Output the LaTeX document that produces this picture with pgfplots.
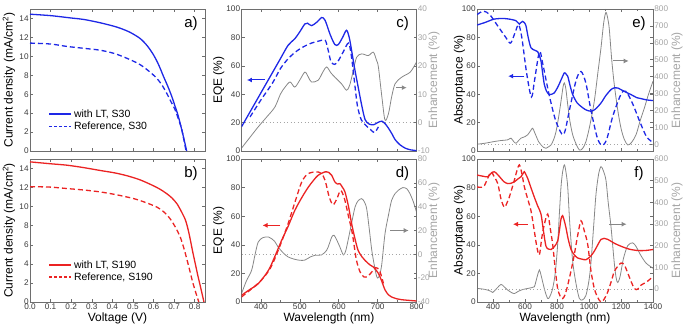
\documentclass[border=0pt]{standalone}
\usepackage{fontspec}
\setmainfont{Liberation Sans}
\usepackage{pgfplots}
\pgfplotsset{compat=1.18}
\usetikzlibrary{arrows.meta}
\definecolor{cblue}{RGB}{30,40,230}
\definecolor{cred}{RGB}{235,35,35}
\definecolor{cgray}{RGB}{135,135,135}
\definecolor{lgray}{RGB}{165,165,165}
\definecolor{frm}{RGB}{110,110,110}
\definecolor{tlab}{RGB}{60,60,60}
\tikzset{plab/.style={font=\fontsize{15}{17}\selectfont}}
\pgfplotsset{
  base/.style={scale only axis, anchor=south west, width=175pt, height=142pt,
    axis line style={frm, line width=0.6pt},
    tick style={frm, line width=0.5pt},
    major tick length=3pt, minor tick length=2pt,
    ticklabel style={font=\fontsize{8.2}{10}\selectfont, text=tlab, inner sep=1.2pt},
    label style={font=\fontsize{12}{14}\selectfont},
    /pgf/number format/assume math mode=true,
    /pgf/number format/set thousands separator={},
    ylabel style={at={(axis description cs:-0.12,0.5)}, anchor=center},
    xlabel style={at={(axis description cs:0.5,-0.112)}, anchor=center},
  },
  rbase/.style={scale only axis, anchor=south west, width=175pt, height=142pt,
    axis y line*=right, axis x line=none,
    axis line style={frm, line width=0.6pt},
    tick style={frm, line width=0.5pt},
    major tick length=3pt,
    ticklabel style={font=\fontsize{8.2}{10}\selectfont, text=lgray, inner sep=1.2pt},
    label style={font=\fontsize{12}{14}\selectfont, text=lgray},
    /pgf/number format/assume math mode=true,
    ylabel style={at={(axis description cs:1.1,0.5)}, anchor=center},
  },
  cur/.style={line width=1.3pt, smooth},
  dsh/.style={line width=1.3pt, smooth, dash pattern=on 5pt off 3pt},
  gr/.style={cgray, line width=0.8pt, smooth},
  dotl/.style={lgray, line width=0.8pt, dash pattern=on 1pt off 2.5pt},
  lg/.style={legend style={at={(rel axis cs:0.1,0.12)}, anchor=south west, draw=none, fill=none,
    font=\fontsize{10.5}{12}\selectfont, row sep=-1pt, inner sep=1pt},
    legend cell align=left,
    legend image code/.code={\draw[##1] (0pt,0pt) -- (22pt,0pt);}},
}
\begin{document}
\begin{tikzpicture}
\useasboundingbox (0pt,0pt) rectangle (686pt,325pt);

% ---------- a ----------
\begin{axis}[base, lg, at={(30pt,174pt)}, xmin=0, xmax=0.85, ymin=0, ymax=15,
  xtick={0,0.1,...,0.8}, xticklabels={}, ytick={0,2,...,14},
  ylabel={Current density (mA/cm\textsuperscript{2})}]
\addlegendimage{cblue, line width=1.3pt}
\addlegendentry{with LT, S30}
\addlegendimage{cblue, line width=1.3pt, dash pattern=on 3pt off 2pt}
\addlegendentry{Reference, S30}
\addplot[cblue, cur, forget plot] coordinates {(0,14.45)(0.1,14.3)(0.2,14.05)(0.26,13.9)(0.34,13.55)(0.42,13.1)(0.48,12.6)(0.534,11.9)(0.57,11.1)(0.6,10.15)(0.625,9.1)(0.648,7.9)(0.67,6.8)(0.688,5.8)(0.705,4.7)(0.72,3.7)(0.741,1.9)(0.761,0)};
\addplot[cblue, dsh, forget plot] coordinates {(0,11.4)(0.1,11.3)(0.178,11.05)(0.26,10.85)(0.34,10.65)(0.41,10.3)(0.47,9.8)(0.52,9.3)(0.55,8.9)(0.585,8.3)(0.615,7.7)(0.64,7.0)(0.664,6.1)(0.685,5.2)(0.704,4.4)(0.722,3.3)(0.737,2.3)(0.758,0)};
\node[plab] at (rel axis cs:0.92,0.9) {a)};
\end{axis}

% ---------- b ----------
\begin{axis}[base, lg, at={(30pt,23pt)}, height=143pt, xmin=0, xmax=0.85, ymin=0, ymax=15,
  xtick={0,0.1,...,0.8}, ytick={0,2,...,14},
  xticklabel style={/pgf/number format/.cd, fixed, fixed zerofill, precision=1},
  ylabel={Current density (mA/cm\textsuperscript{2})}, xlabel={Voltage (V)}]
\addlegendimage{cred, line width=1.3pt}
\addlegendentry{with LT, S190}
\addlegendimage{cred, line width=1.3pt, dash pattern=on 3pt off 2pt}
\addlegendentry{Reference, S190}
\addplot[cred, cur, forget plot] coordinates {(0,14.7)(0.1,14.5)(0.18,14.35)(0.26,14.1)(0.34,13.8)(0.41,13.55)(0.47,13.25)(0.53,12.85)(0.584,12.35)(0.63,11.85)(0.665,11.35)(0.69,10.9)(0.714,10.3)(0.735,9.5)(0.755,8.6)(0.768,7.6)(0.779,6.5)(0.79,5.3)(0.803,4.0)(0.815,2.8)(0.828,1.6)(0.845,0)};
\addplot[cred, dsh, forget plot] coordinates {(0,12.1)(0.1,12.05)(0.18,11.9)(0.26,11.75)(0.34,11.55)(0.42,11.25)(0.503,10.85)(0.56,10.45)(0.617,9.95)(0.65,9.45)(0.68,8.75)(0.705,7.9)(0.73,6.8)(0.748,5.6)(0.763,4.4)(0.776,3.3)(0.79,2.1)(0.805,1.0)(0.82,0)};
\node[plab] at (rel axis cs:0.92,0.9) {b)};
\end{axis}

% ---------- c ----------
\begin{axis}[rbase, at={(241.5pt,174pt)}, xmin=350, xmax=800, ymin=-10, ymax=40,
  ytick={-10,0,...,40}, ylabel={Enhancement (\%)}]
\addplot[gr] coordinates {(350,-9)(370,-5.5)(393,-1.5)(415,2)(436,5.5)(450,10)(462,12.5)(475,14.3)(487,12.5)(500,15)(513,17.8)(522,16)(530,14.3)(547,14.9)(560,18)(569,19.6)(580,17.5)(590,16)(607,13.7)(620,11.4)(628,13.1)(637,18)(646,23)(659,24.2)(676,23.6)(689,24.8)(697,22)(702,19.6)(711,9)(719,0.9)(728,3.2)(736,9)(745,13.7)(762,16)(784,17.8)(800,21.3)};
\addplot[dotl] coordinates {(350,0)(800,0)};
\end{axis}
\begin{axis}[base, at={(241.5pt,174pt)}, xmin=350, xmax=800, ymin=0, ymax=100,
  xtick={400,500,...,800}, minor x tick num=1, xticklabels={}, ytick={0,20,...,100},
  ylabel={EQE (\%)}, ylabel style={at={(axis description cs:-0.13,0.5)}}]
\addplot[cblue, cur] coordinates {(350,17)(375,29)(400,41)(425,53)(450,65)(470,74.5)(487,79)(500,84)(513,89.5)(520,90)(530,88.3)(545,91)(556,94)(565,92)(578,82)(590,75)(599,75)(610,80)(620,85)(627,80)(633,71)(641,58)(650,45)(660,31)(668,22)(678,19)(690,18.5)(700,20)(711,21)(720,19)(728,16)(737,12)(745,8)(757,4.5)(771,2)(785,0.8)(800,0.3)};
\addplot[cblue, dsh] coordinates {(372,24)(400,36)(430,48)(450,58)(470,65)(490,70)(510,73.5)(530,76)(550,77.5)(565,78)(572,72)(580,63)(590,61)(600,64)(612,70)(625,76)(632,68)(640,50)(648,32)(658,22)(670,18)(682,15)(692,13)(702,17)};
\draw[-{Latex[length=5pt,width=5pt]}, cblue, line width=1pt] (axis cs:410,50) -- (axis cs:364,50);
\draw[-{Latex[length=5pt,width=5pt]}, cgray, line width=1pt] (axis cs:748,44.6) -- (axis cs:775,44.6);
\node[plab] at (rel axis cs:0.92,0.9) {c)};
\end{axis}

% ---------- d ----------
\begin{axis}[rbase, at={(241.5pt,23pt)}, height=143pt, xmin=350, xmax=800, ymin=-40, ymax=80,
  ytick={-40,-20,...,80}, ylabel={Enhancement (\%)}]
\addplot[gr] coordinates {(350,-33)(363,-22)(376,-13.4)(385,0)(393,10.3)(405,14)(420,14.5)(435,11)(444,6.2)(458,1)(470,-2.2)(485,-4)(500,-5)(513,-4.8)(528,-2)(539,-0.8)(556,-0.5)(569,3.4)(576,9)(582,14.5)(588,16)(595,12)(603,6.2)(612,-0.5)(618,3)(624,11.7)(633,26)(642,39.7)(650,45)(659,46.7)(666,44)(672,38)(679,20)(685,3.4)(692,-10)(698,-19)(703,-19)(710,-10)(719,17.3)(728,33)(736,45.3)(745,51)(753,53.7)(765,56)(775,55)(783,51)(792,44)(800,35.5)};
\addplot[dotl] coordinates {(350,0)(800,0)};
\end{axis}
\begin{axis}[base, at={(241.5pt,23pt)}, height=143pt, xmin=350, xmax=800, ymin=0, ymax=100,
  xtick={400,500,...,800}, minor x tick num=1, ytick={0,20,...,100},
  ylabel={EQE (\%)}, ylabel style={at={(axis description cs:-0.13,0.5)}},
  xlabel={Wavelength (nm)}]
\addplot[cred, cur] coordinates {(350,4.7)(370,8.5)(393,12.8)(419,22)(436,32)(453,43)(470,53)(487,64)(505,73)(522,80.4)(535,85)(547,88.6)(565,91)(575,90.5)(582,88.6)(590,84)(597,82.5)(603,82.8)(610,80)(616,77)(625,67)(633,55)(642,44)(650,36)(660,31.5)(668,29)(680,26)(689,24.5)(702,20)(710,15)(719,8.5)(728,5)(736,3.5)(750,2.2)(762,1.6)(800,0.7)};
\addplot[cred, dsh] coordinates {(350,3.5)(375,9)(400,15)(425,24)(450,40)(470,55)(490,72)(505,84)(520,89.5)(540,91)(555,90)(565,85)(575,74)(585,68)(595,72)(605,78)(615,72)(625,60)(635,48)(645,30)(655,21)(665,17.5)(675,18)(685,21)(695,24)(705,22)(715,13)};
\draw[-{Latex[length=5pt,width=5pt]}, cred, line width=1pt] (axis cs:450,53.6) -- (axis cs:404,53.6);
\draw[-{Latex[length=5pt,width=5pt]}, cgray, line width=1pt] (axis cs:733,50) -- (axis cs:780,50);
\node[plab] at (rel axis cs:0.92,0.9) {d)};
\end{axis}

% ---------- e ----------
\begin{axis}[rbase, at={(477pt,174pt)}, width=176pt, xmin=300, xmax=1400, ymin=-40, ymax=800,
  ytick={0,100,...,800}, ylabel={Enhancement (\%)},
  ylabel style={at={(axis description cs:1.136,0.5)}}]
\addplot[gr] coordinates {(300,0)(350,6)(408,16)(450,22)(492,26)(512,36)(530,15)(544,6)(560,22)(575,36)(600,45)(617,56)(635,80)(648,95)(660,70)(669,50)(685,15)(700,-4)(715,-18)(731,-24)(748,-15)(763,-4)(780,30)(794,75)(810,160)(825,254)(838,340)(846,363)(855,330)(867,234)(880,140)(898,56)(920,0)(940,-34)(960,-25)(981,16)(1005,110)(1033,254)(1055,420)(1075,571)(1092,720)(1106,780)(1118,740)(1127,680)(1142,500)(1158,353)(1180,200)(1200,95)(1220,30)(1242,-4)(1265,10)(1294,56)(1320,140)(1346,214)(1370,290)(1400,373)};
\addplot[dotl] coordinates {(300,0)(1400,0)};
\end{axis}
\begin{axis}[base, at={(477pt,174pt)}, width=176pt, xmin=300, xmax=1400, ymin=0, ymax=100,
  xtick={400,600,...,1400}, minor x tick num=1, xticklabels={}, ytick={0,20,...,100},
  ylabel={Absorptance (\%)}, ylabel style={at={(axis description cs:-0.10,0.5)}}]
\addplot[cblue, cur] coordinates {(300,88.7)(350,90.5)(408,92.9)(471,93.3)(520,92.5)(544,91.7)(555,90.5)(565,89.4)(575,90.5)(585,91.3)(595,90.5)(606,88.2)(620,80)(637,72.8)(660,71)(679,70)(690,67)(700,63.4)(710,55)(721,46.8)(735,42)(752,39.7)(768,40)(783,40.9)(805,45)(825,50)(846,55)(858,54)(867,52.7)(882,46)(898,39.7)(925,34)(950,31.4)(980,29)(1013,28)(1040,29.5)(1075,33.8)(1105,39)(1138,43.3)(1160,44.5)(1179,44.4)(1220,42)(1263,39.7)(1300,37.5)(1325,36.9)(1360,36)(1400,35.5)};
\addplot[cblue, dsh] coordinates {(300,96)(340,98.5)(380,96)(430,88)(480,80)(510,76)(540,84)(560,89)(580,80)(610,55)(640,38)(660,50)(690,70)(710,62)(750,40)(790,22)(830,12)(850,14)(880,30)(920,50)(950,56)(980,48)(1010,30)(1050,10)(1080,4)(1110,8)(1150,25)(1200,40)(1230,42)(1270,34)(1320,20)(1360,10)(1400,6)};
\draw[-{Latex[length=5pt,width=5pt]}, cblue, line width=1pt] (axis cs:596,52.7) -- (axis cs:495,52.7);
\draw[-{Latex[length=5pt,width=5pt]}, cgray, line width=1pt] (axis cs:1148,63.4) -- (axis cs:1248,63.4);
\node[plab] at (rel axis cs:0.92,0.9) {e)};
\end{axis}

% ---------- f ----------
\begin{axis}[rbase, at={(477pt,23pt)}, width=176pt, height=143pt, xmin=300, xmax=1400, ymin=-60, ymax=600,
  ytick={0,100,...,600}, ylabel={Enhancement (\%)},
  ylabel style={at={(axis description cs:1.136,0.5)}}]
\addplot[gr] coordinates {(300,2.5)(335,0)(367,-5)(385,-10)(398,-16)(420,0)(450,21)(470,10)(492,-5)(512,-15)(533,-21)(555,-12)(575,-5)(600,0)(617,2.5)(640,6)(658,10)(670,40)(679,65)(690,88)(700,65)(710,34)(725,-10)(742,-44)(755,-35)(773,2.5)(790,80)(804,205)(815,350)(825,471)(835,540)(846,573)(856,540)(867,471)(880,300)(898,128)(920,20)(940,-44)(960,-50)(981,-29)(1000,40)(1013,128)(1030,300)(1044,440)(1060,530)(1075,565)(1090,545)(1106,502)(1120,400)(1138,284)(1158,120)(1170,50)(1180,30)(1195,60)(1215,140)(1242,200)(1273,213)(1295,195)(1320,160)(1356,120)(1400,96)};
\addplot[dotl] coordinates {(300,0)(1400,0)};
\end{axis}
\begin{axis}[base, at={(477pt,23pt)}, width=176pt, height=143pt, xmin=300, xmax=1400, ymin=0, ymax=100,
  xtick={400,600,...,1400}, minor x tick num=1, ytick={0,20,...,100},
  ylabel={Absorptance (\%)}, ylabel style={at={(axis description cs:-0.10,0.5)}},
  xlabel={Wavelength (nm)}]
\addplot[cred, cur] coordinates {(300,88.8)(335,88)(367,87.6)(388,90)(408,91.1)(430,89)(450,86.4)(470,84)(492,82.8)(512,83)(533,84)(555,86)(575,87.6)(586,89.5)(596,91.1)(606,89)(617,86.4)(637,80)(658,73.4)(680,67)(700,61.5)(715,50)(731,39)(747,37)(763,36.7)(785,39)(804,42.6)(815,50)(825,58)(835,60.4)(845,57)(856,52)(870,44)(888,36.7)(908,33)(929,30.8)(955,30)(981,29.6)(1010,32)(1033,35.5)(1055,40)(1075,43.8)(1095,44.5)(1117,43.8)(1160,41)(1200,39)(1250,37)(1304,36)(1350,36)(1400,36.7)};
\addplot[cred, dsh] coordinates {(300,80.5)(340,80.5)(365,86)(388,91)(410,87)(430,82.8)(450,72)(471,66.3)(490,70)(502,73.4)(520,80)(533,85)(550,92)(565,95.9)(580,90)(596,80.5)(617,72)(637,64)(655,52)(675,38)(690,33)(705,45)(721,54.4)(742,61.5)(757,52)(773,40.2)(790,22)(804,9.5)(820,4)(835,2.4)(850,5)(867,11.8)(888,22)(908,33.1)(930,47)(950,56.8)(970,50)(992,40.2)(1012,22)(1033,9.5)(1055,3)(1075,0)(1095,2)(1117,7)(1138,14)(1158,21.3)(1180,25)(1200,27.2)(1221,26)(1250,18)(1283,9.5)(1305,9)(1325,11.8)(1360,14)(1400,17.8)};
\draw[-{Latex[length=5pt,width=5pt]}, cred, line width=1pt] (axis cs:617,54.4) -- (axis cs:525,54.4);
\draw[-{Latex[length=5pt,width=5pt]}, cgray, line width=1pt] (axis cs:1127,54.4) -- (axis cs:1235,54.4);
\node[plab] at (rel axis cs:0.92,0.9) {f)};
\end{axis}
\end{tikzpicture}
\end{document}
